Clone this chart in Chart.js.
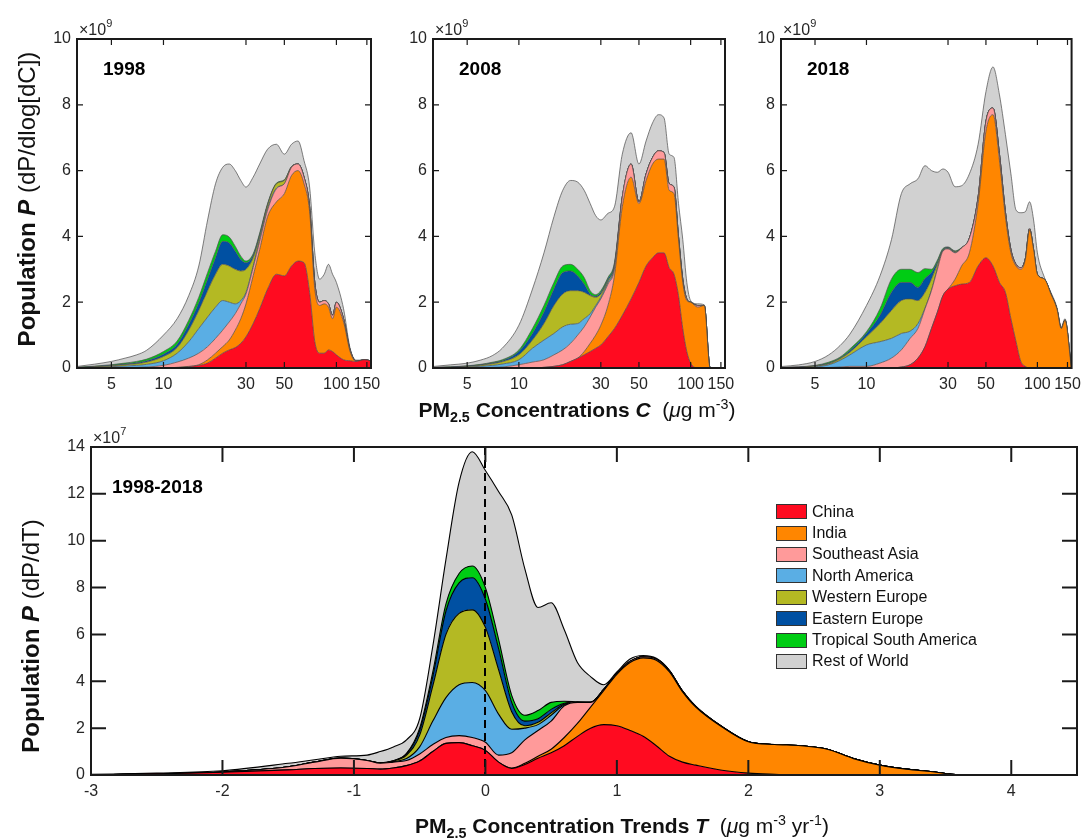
<!DOCTYPE html>
<html>
<head>
<meta charset="utf-8">
<script src="https://cdn.jsdelivr.net/npm/chart.js@4.4.1/dist/chart.umd.min.js"></script>
<style>
  body { margin: 0; background: #fff; width: 1088px; height: 840px; position: relative; overflow: hidden;
         font-family: "Liberation Sans", Arial, sans-serif; color: #111; }
  canvas { position: absolute; }
  .xtitle { position: absolute; white-space: nowrap; font-size: 21px; transform: translate(-50%, -50%); z-index: 5; }
  .ytitle { position: absolute; white-space: nowrap; font-size: 24px; transform: translate(-50%, -50%) rotate(-90deg); z-index: 5; }
  sub, sup { font-size: 0.68em; line-height: 0; }
  #legend { position: absolute; left: 776px; top: 501px; z-index: 5; font-size: 16px; }
  .row { height: 21.4px; display: flex; align-items: center; }
  .sw { width: 31px; height: 15px; box-sizing: border-box; border: 1px solid #333; margin-right: 5px; }
</style>
</head>
<body>
<canvas id="c1998" width="410" height="400" style="left:0px;top:0px"></canvas>
<canvas id="c2008" width="410" height="400" style="left:356px;top:0px"></canvas>
<canvas id="c2018" width="384" height="400" style="left:704px;top:0px"></canvas>
<canvas id="cTrend" width="1088" height="420" style="left:0px;top:420px"></canvas>

<div class="ytitle" style="left:27px;top:199px"><b>Population <i>P</i></b> (dP/dlog[dC])</div>
<div class="xtitle" style="left:577px;top:410px"><b>PM<sub>2.5</sub> Concentrations <i>C</i></b>&nbsp; (<i>&mu;</i>g m<sup>-3</sup>)</div>
<div class="ytitle" style="left:31px;top:636px"><b>Population <i>P</i></b> (dP/dT)</div>
<div class="xtitle" style="left:622px;top:826px"><b>PM<sub>2.5</sub> Concentration Trends <i>T</i></b>&nbsp; (<i>&mu;</i>g m<sup>-3</sup> yr<sup>-1</sup>)</div>
<div id="legend"></div>

<script>
// Population distribution over PM2.5 concentration (top) and trend (bottom)
const regionNames = ['China', 'India', 'Southeast Asia', 'North America', 'Western Europe',
  'Eastern Europe', 'Tropical South America', 'Rest of World'];
const regionColors = ['#ff0b20', '#ff8600', '#ff9a9a', '#5aaee4', '#b4b923', '#0050a2', '#00cc14', '#d1d1d1'];

const concTicks = [5, 10, 30, 50, 100, 150];
const popTicks = [0, 2, 4, 6, 8, 10];
const trendTicks = [-3, -2, -1, 0, 1, 2, 3, 4];
const trendPopTicks = [0, 2, 4, 6, 8, 10, 12, 14];

// concentration grid (ug/m3), values in units of 1e9
const conc = [3.2, 4, 5, 6, 7, 8, 10, 12, 14, 16, 18, 20, 22, 24, 26, 28, 30, 33, 36, 40, 45, 50, 55, 60, 65, 70, 75, 80, 85, 90, 95, 100, 110, 120, 130, 138, 145, 158];

// 1998
const china1998 = [0,0,0,0,0,0,0, 0.01,0.04,0.08,0.15,0.3,0.45,0.55,0.62,0.75,0.95, 1.35,1.8,2.4,2.85,2.8,3.1,3.25,3.2,2.3,0.8,0.45,0.45,0.55,0.5,0.4, 0.25,0.22,0.2,0.23,0.25,0.22];
const india1998 = [0,0,0,0,0,0,0, 0.01,0.01,0.02,0.1,0.15,0.2,0.3,0.53,0.75,1.0, 1.45,1.8,2.2,2.2,2.5,2.75,2.75,2.4,2.45,1.6,1.45,1.5,1.3,1.0,1.45, 1.15,0.28,0,0,0,0];
const sea1998 = [0.002,0.006,0.01,0.015,0.02,0.03, 0.08,0.16,0.25,0.35,0.4,0.45,0.5,0.55,0.5,0.45,0.3, 0.25,0.25,0.2,0.4,0.3,0.25,0.2,0.2,0.15,0.2,0.1,0.1,0.1,0.1,0.15, 0.1,0.05,0.02,0,0,0];
const na1998 = [0.006,0.018,0.03,0.045,0.06,0.08, 0.14,0.27,0.5,0.75,0.9,0.95,0.9,0.6,0.3,0.1,0.05, 0.05,0.05,0.05,0.02,0,0,0,0,0,0,0,0,0,0,0, 0,0,0,0,0,0];
const we1998 = [0.006,0.015,0.025,0.04,0.05,0.07, 0.13,0.17,0.35,0.55,0.8,1.0,1.1,1.1,1.05,0.9,0.7, 0.25,0.1,0.1,0.13,0.1,0.02,0,0,0,0,0,0,0,0,0, 0,0,0,0,0,0];
const ee1998 = [0.003,0.008,0.015,0.02,0.03,0.04, 0.07,0.1,0.17,0.23,0.35,0.5,0.7,0.7,0.55,0.35,0.2, 0.07,0.05,0.02,0,0,0,0,0,0,0,0,0,0,0,0, 0,0,0,0,0,0];
const tsa1998 = [0.003,0.01,0.02,0.03,0.04,0.05, 0.08,0.1,0.13,0.17,0.2,0.2,0.2,0.18,0.15,0.1,0.05, 0.05,0.05,0.03,0.02,0.02,0,0,0,0,0,0,0,0,0,0, 0,0,0,0,0,0];
const row1998 = [0.03,0.06,0.1,0.15,0.2,0.27, 0.5,0.68,0.75,0.95,1.6,2.05,2.05,2.22,2.3,2.3,2.25, 2.33,2.1,1.65,1.18,0.78,0.68,0.7,0.5,0.6,0.9,0.7,0.8,1.2,1.25,0.6, 0.3,0.05,0.02,0.01,0,0];

// 2008
const china2008 = [0,0,0,0,0,0, 0,0,0.02,0.05,0.1,0.2,0.3,0.4,0.5,0.6,0.7, 0.95,1.2,1.6,2.1,2.6,3.1,3.35,3.5,3.5,3.05,2.85,2.2,1.2,0.5,0.15, 0,0,0,0,0,0];
const india2008 = [0,0,0,0,0,0, 0,0,0,0,0,0,0,0.1,0.25,0.4,0.6, 0.95,1.6,3.3,3.7,2.4,2.6,2.85,2.85,2.85,2.35,2.45,1.7,1.4,1.55,1.85, 1.85,1.9,0,0,0,0];
const sea2008 = [0.002,0.004,0.007,0.012,0.02,0.03, 0.1,0.18,0.23,0.35,0.45,0.55,0.7,0.75,0.8,0.85,0.8, 0.65,0.2,0.3,0.4,0.05,0.2,0.2,0.25,0.2,0.2,0.2,0.1,0.1,0.05,0, 0.05,0,0,0,0,0];
const na2008 = [0.005,0.01,0.02,0.04,0.06,0.09, 0.15,0.42,0.6,0.65,0.7,0.58,0.35,0.25,0.1,0.05,0.05, 0.05,0.05,0,0,0,0,0,0,0,0,0,0,0,0,0, 0,0,0,0,0,0];
const we2008 = [0.005,0.01,0.02,0.03,0.05,0.07, 0.15,0.25,0.5,0.85,1.0,1.02,1.0,0.8,0.55,0.25,0.1, 0.05,0.05,0,0,0,0,0,0,0,0,0,0,0,0,0, 0,0,0,0,0,0];
const ee2008 = [0.003,0.006,0.01,0.015,0.025,0.03, 0.1,0.2,0.35,0.5,0.65,0.6,0.45,0.25,0.05,0.03,0.05, 0.05,0.05,0,0,0,0,0,0,0,0,0,0,0,0,0, 0,0,0,0,0,0];
const tsa2008 = [0.003,0.006,0.01,0.015,0.02,0.03, 0.05,0.15,0.2,0.2,0.2,0.2,0.2,0.2,0.1,0.05,0.05, 0.05,0.05,0,0,0,0,0,0,0,0,0,0,0,0,0, 0,0,0,0,0,0];
const row2008 = [0.03,0.06,0.08,0.13,0.2,0.35, 0.75,1.2,1.6,2.0,2.3,2.55,2.65,2.65,2.65,2.4,2.15, 1.95,1.7,1.3,0.95,1.15,1.0,1.05,1.1,1.05,0.9,0.9,1.0,1.2,0.5,0.05, 0.05,0.02,0,0,0,0];

// 2018
const china2018 = [0,0,0,0,0,0, 0,0,0,0.03,0.1,0.3,0.65,1.2,1.7,2.2,2.4, 2.5,2.55,2.6,3.1,3.35,3.1,2.6,2.3,1.5,0.8,0.2,0.05,0,0,0, 0,0,0,0,0,0];
const india2018 = [0,0,0,0,0,0, 0,0,0,0,0,0,0,0,0,0,0, 0.2,0.55,0.9,1.9,3.85,4.6,3.7,2.3,2.0,2.3,2.8,3.25,4.2,3.6,2.85, 2.7,2.25,1.8,1.2,1.45,0];
const sea2018 = [0.002,0.004,0.008,0.015,0.03,0.05, 0.05,0.15,0.3,0.52,0.8,0.9,1.15,1.15,1.3,1.35,1.22, 0.8,0.55,0.45,0.2,0.3,0.2,0.2,0.15,0.1,0.05,0.05,0.03,0.03,0,0, 0,0,0,0,0,0];
const na2018 = [0.005,0.01,0.03,0.08,0.2,0.35, 0.65,0.65,0.6,0.5,0.22,0.15,0.02,0.02,0.02,0.01,0.01, 0.01,0,0,0,0,0,0,0,0,0,0,0,0,0,0, 0,0,0,0,0,0];
const we2018 = [0.005,0.01,0.02,0.03,0.05,0.08, 0.25,0.55,0.85,1.0,0.98,0.7,0.48,0.33,0.13,0.02,0.02, 0.02,0,0,0,0,0,0,0,0,0,0,0,0,0,0, 0,0,0,0,0,0];
const ee2018 = [0.003,0.006,0.01,0.02,0.02,0.05, 0.1,0.25,0.55,0.55,0.5,0.4,0.42,0.2,0.07,0.02,0.01, 0.01,0,0,0,0,0,0,0,0,0,0,0,0,0,0, 0,0,0,0,0,0];
const tsa2018 = [0.002,0.004,0.01,0.03,0.03,0.05, 0.05,0.2,0.4,0.4,0.4,0.45,0.3,0.1,0.06,0.03,0.02, 0.02,0.01,0,0,0,0,0,0,0,0,0,0,0,0,0, 0,0,0,0,0,0];
const row2018 = [0.03,0.06,0.12,0.22,0.35,0.45, 0.8,1.0,1.2,2.3,2.6,2.85,3.13,3.0,2.67,2.42,2.27, 1.95,1.88,1.95,1.6,0.9,1.25,1.8,2.35,2.3,1.65,1.67,1.42,0.82,0.9,0.65, 0.05,0.05,0.05,0.05,0.05,0];

// trend grid (ug m-3 yr-1), values in units of 1e7
const trend = [-3,-2.5,-2,-1.5,-1.3,-1.1,-0.9,-0.8,-0.7,-0.6, -0.5,-0.4,-0.3,-0.2,-0.1,0,0.1,0.2,0.3,0.4, 0.5,0.6,0.7,0.8,0.9,1.0,1.1,1.2,1.3,1.4, 1.5,1.6,1.8,2.0,2.2,2.4,2.6,2.8,3.0,3.2, 3.4,3.6,3.8,4.5];
const chinaTrend = [0,0.05,0.12,0.22,0.28,0.3,0.28,0.25,0.3,0.4, 0.6,1.0,1.35,1.38,1.25,1.05,0.55,0.28,0.45,0.72, 0.95,1.25,1.65,2.0,2.15,2.1,1.9,1.65,1.25,0.8, 0.55,0.42,0.2,0.08,0.03,0,0,0,0,0, 0,0,0,0];
const indiaTrend = [0,0,0,0,0,0,0,0,0,0, 0,0,0,0,0,0,0,0.02,0.05,0.08, 0.15,0.35,0.55,0.9,1.45,2.2,2.9,3.35,3.65,3.6, 3.0,2.48,1.85,1.34,1.27,1.25,1.1,0.7,0.42,0.25, 0.14,0.01,0,0];
const seaTrend = [0,0,0.01,0.13,0.27,0.42,0.34,0.25,0.25,0.22, 0.3,0.3,0.25,0.3,0.35,0.35,0.3,0.65,1.0,1.1, 1.2,1.35,0.9,0.2,0.05,0.05,0.05,0.05,0.05,0.05, 0.02,0.02,0.01,0,0,0,0,0,0,0, 0,0,0,0];
const naTrend = [0,0,0,0,0,0,0,0.01,0.02,0.08, 0.3,1.0,1.7,2.17,2.35,2.2,1.75,1.0,0.5,0.25, 0.25,0.05,0,0,0,0,0,0,0,0, 0,0,0,0,0,0,0,0,0,0, 0,0,0,0];
const weTrend = [0,0,0,0,0,0,0,0.01,0.03,0.15, 0.5,1.5,2.7,3.05,3.1,2.7,1.9,0.75,0.1,0.1, 0.1,0.03,0,0,0,0,0,0,0,0, 0,0,0,0,0,0,0,0,0,0, 0,0,0,0];
const eeTrend = [0,0,0,0,0,0,0,0,0.01,0.05, 0.2,0.4,1.0,1.3,1.37,1.2,0.9,0.4,0.2,0.15, 0.15,0.03,0,0,0,0,0,0,0,0, 0,0,0,0,0,0,0,0,0,0, 0,0,0,0];
const tsaTrend = [0,0,0,0,0,0,0,0,0,0.02, 0.1,0.2,0.3,0.4,0.5,0.5,0.4,0.3,0.25,0.35, 0.3,0.09,0.02,0,0,0,0,0,0,0, 0,0,0,0,0,0,0,0,0,0, 0,0,0,0];
const rowTrend = [0.03,0.03,0.05,0.15,0.1,0.08,0.23,0.48,0.59,0.58, 0.4,1.1,1.9,3.9,4.88,5.0,6.3,7.7,6.25,4.4, 4.25,3.05,1.68,1.1,0.2,0.05,0.1,0.05,0.03,0.02, 0.02,0.02,0.01,0.01,0,0,0,0,0,0, 0,0,0,0];

const FONT = '"Liberation Sans", Arial, sans-serif';
Chart.defaults.font.family = FONT;
Chart.defaults.color = '#262626';

// box, inward ticks on all four sides, panel label, exponent, zero line
const framePlugin = {
  id: 'frame',
  afterDatasetsDraw(chart, args, o) {
    const { ctx, chartArea: a } = chart;
    const xs = chart.scales.x, ys = chart.scales.y;
    ctx.save();
    if (o.zeroLine) {
      const px = Math.round(xs.getPixelForValue(0));
      ctx.setLineDash([8, 5]);
      ctx.lineWidth = 2;
      ctx.strokeStyle = '#000';
      ctx.beginPath();
      ctx.moveTo(px, a.top);
      ctx.lineTo(px, a.bottom);
      ctx.stroke();
      ctx.setLineDash([]);
    }
    ctx.strokeStyle = '#1a1a1a';
    ctx.lineWidth = o.tickWidth;
    ctx.beginPath();
    xs.ticks.forEach(t => {
      const px = xs.getPixelForValue(t.value);
      ctx.moveTo(px, a.bottom); ctx.lineTo(px, a.bottom - o.tickLen);
      ctx.moveTo(px, a.top); ctx.lineTo(px, a.top + o.tickLen);
    });
    ys.ticks.forEach(t => {
      const py = ys.getPixelForValue(t.value);
      ctx.moveTo(a.left, py); ctx.lineTo(a.left + o.tickLen, py);
      ctx.moveTo(a.right, py); ctx.lineTo(a.right - o.tickLen, py);
    });
    ctx.stroke();
    ctx.lineWidth = o.boxWidth;
    ctx.strokeRect(a.left, a.top, a.right - a.left, a.bottom - a.top);

    ctx.fillStyle = '#000';
    ctx.textAlign = 'left';
    ctx.textBaseline = 'alphabetic';
    ctx.font = 'bold 19px ' + FONT;
    ctx.fillText(o.label, a.left + o.labelDx, a.top + o.labelDy);

    ctx.fillStyle = '#262626';
    ctx.font = '16px ' + FONT;
    const base = '\u00d710';
    ctx.fillText(base, a.left + 2, a.top - 4);
    const w = ctx.measureText(base).width;
    ctx.font = '11px ' + FONT;
    ctx.fillText(o.exponent, a.left + 2 + w, a.top - 12);
    ctx.restore();
  }
};

function stackedPanel(id, xs, layers, cfg) {
  const datasets = layers.map((vals, i) => ({
    label: regionNames[i],
    data: vals.map((v, k) => ({ x: xs[k], y: v })),
    backgroundColor: regionColors[i],
    borderColor: cfg.lineColor,
    borderWidth: cfg.lineWidth,
    fill: i === 0 ? 'origin' : '-1',
    pointRadius: 0,
    cubicInterpolationMode: 'monotone'
  }));
  return new Chart(document.getElementById(id), {
    type: 'line',
    data: { datasets },
    plugins: [framePlugin],
    options: {
      responsive: false,
      animation: false,
      devicePixelRatio: 1,
      events: [],
      layout: { padding: cfg.padding },
      plugins: {
        legend: { display: false },
        tooltip: { enabled: false },
        frame: cfg.frame
      },
      scales: {
        x: {
          type: cfg.xType,
          min: cfg.xMin,
          max: cfg.xMax,
          afterBuildTicks: s => { s.ticks = cfg.xTicks.map(v => ({ value: v })); },
          afterFit: s => { s.height = cfg.xAxisH; },
          grid: { display: false, drawTicks: false },
          border: { display: false },
          ticks: { autoSkip: false, maxRotation: 0, padding: 7, font: { size: 16 }, callback: v => String(v) }
        },
        y: {
          stacked: true,
          min: 0,
          max: cfg.yMax,
          afterBuildTicks: s => { s.ticks = cfg.yTicks.map(v => ({ value: v })); },
          afterFit: s => { s.width = cfg.yAxisW; },
          grid: { display: false, drawTicks: false },
          border: { display: false },
          ticks: { padding: 6, font: { size: 16 }, callback: v => String(v) }
        }
      }
    }
  });
}

const topCfg = (label, padRight) => ({
  xType: 'logarithmic', xMin: 3.1623, xMax: 158.49, xTicks: concTicks,
  yMax: 10, yTicks: popTicks, yAxisW: 77, xAxisH: 32,
  padding: { top: 39, right: padRight, bottom: 0, left: 0 },
  lineColor: '#4a4a4a', lineWidth: 0.7,
  frame: { label, labelDx: 26, labelDy: 36, exponent: '9', tickLen: 6, tickWidth: 1.2, boxWidth: 2, zeroLine: false }
});

stackedPanel('c1998', conc, [china1998, india1998, sea1998, na1998, we1998, ee1998, tsa1998, row1998], topCfg('1998', 39));
stackedPanel('c2008', conc, [china2008, india2008, sea2008, na2008, we2008, ee2008, tsa2008, row2008], topCfg('2008', 41));
stackedPanel('c2018', conc, [china2018, india2018, sea2018, na2018, we2018, ee2018, tsa2018, row2018], topCfg('2018', 11));

stackedPanel('cTrend', trend, [chinaTrend, indiaTrend, seaTrend, naTrend, weTrend, eeTrend, tsaTrend, rowTrend], {
  xType: 'linear', xMin: -3, xMax: 4.5, xTicks: trendTicks,
  yMax: 14, yTicks: trendPopTicks, yAxisW: 91, xAxisH: 65,
  padding: { top: 27, right: 11, bottom: 0, left: 0 },
  lineColor: '#000', lineWidth: 1.1,
  frame: { label: '1998-2018', labelDx: 21, labelDy: 46, exponent: '7', tickLen: 15, tickWidth: 2, boxWidth: 2, zeroLine: true }
});

// legend
const legend = document.getElementById('legend');
regionNames.forEach((name, i) => {
  const row = document.createElement('div');
  row.className = 'row';
  const sw = document.createElement('div');
  sw.className = 'sw';
  sw.style.background = regionColors[i];
  const txt = document.createElement('span');
  txt.textContent = name;
  row.appendChild(sw);
  row.appendChild(txt);
  legend.appendChild(row);
});
</script>
</body>
</html>
